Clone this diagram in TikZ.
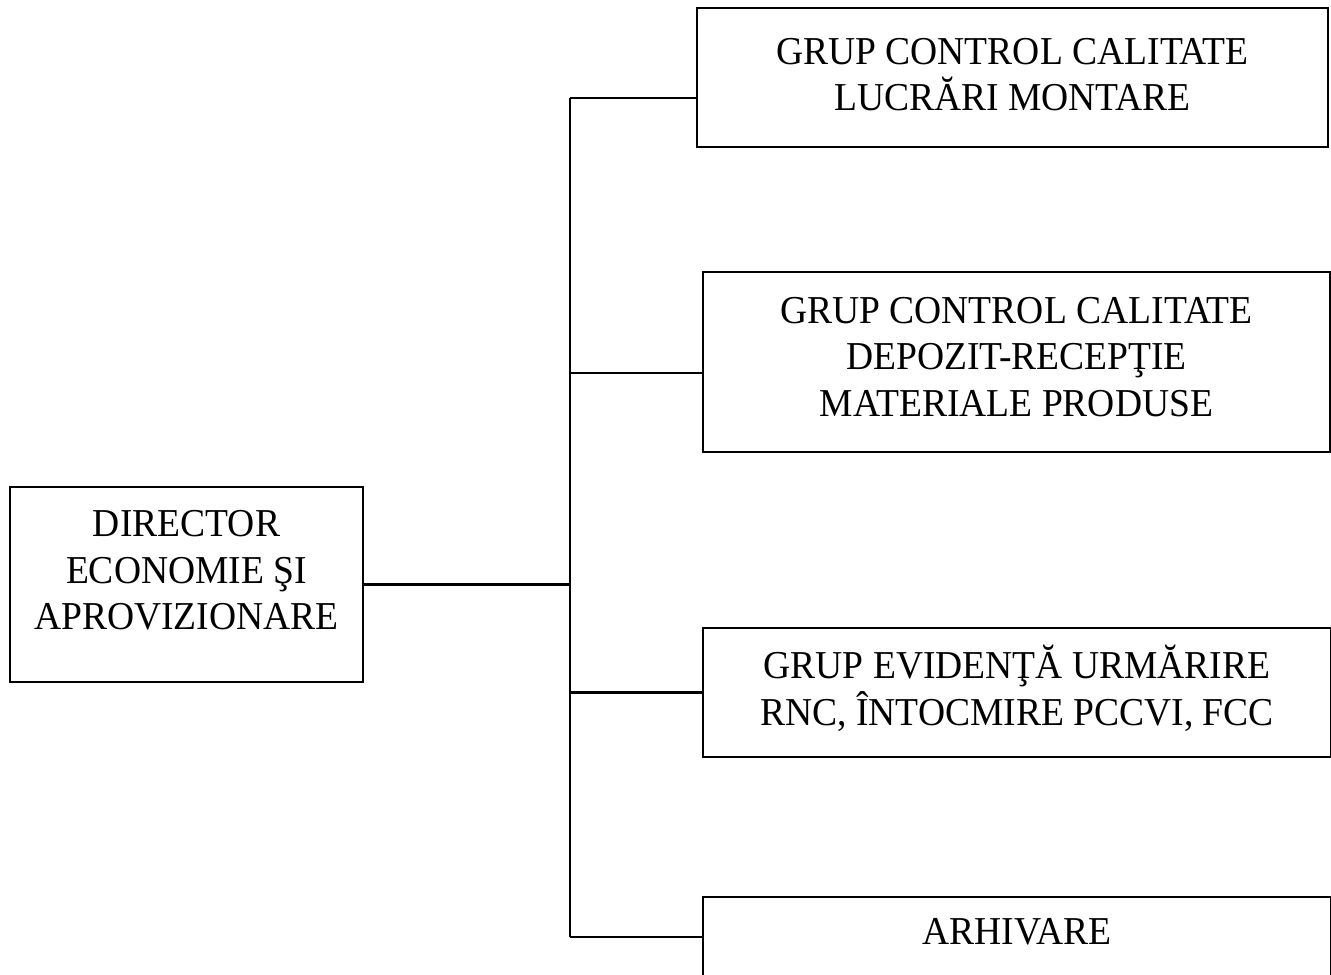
\documentclass[tikz,border=0pt]{standalone}
\usepackage{fontspec}
\setmainfont[FakeStretch=0.95]{Liberation Serif}
\usepackage{tikz}
\tikzstyle{unit}=[draw,rectangle,line width=1.3pt,inner sep=0pt]
\tikzstyle{every label}=[align=center,inner sep=0pt,font=\fontsize{22.5}{26.5}\selectfont]

\begin{document}
\begin{tikzpicture}[x=0.02cm,y=-0.02cm,line width=1.3pt]
	\useasboundingbox (0,0) rectangle (1331,974);
	% casete
	\node [unit,minimum width=353*0.02cm,minimum height=195*0.02cm,
		label={[yshift=14*0.02cm]center:DIRECTOR\\ECONOMIE ŞI\\APROVIZIONARE}] (director) at (186.5,584.5) {};
	\node [unit,minimum width=631*0.02cm,minimum height=139*0.02cm,
		label={[yshift=3*0.02cm]center:GRUP CONTROL CALITATE\\LUCRĂRI MONTARE}] (montare) at (1012.5,77.5) {};
	\node [unit,minimum width=627*0.02cm,minimum height=180*0.02cm,
		label={[yshift=5*0.02cm]center:GRUP CONTROL CALITATE\\DEPOZIT-RECEPŢIE\\MATERIALE PRODUSE}] (depozit) at (1016.5,362) {};
	\node [unit,minimum width=628*0.02cm,minimum height=129*0.02cm,
		label={[yshift=4*0.02cm]center:GRUP EVIDENŢĂ URMĂRIRE\\RNC, ÎNTOCMIRE PCCVI, FCC}] (evidenta) at (1017,692.5) {};
	\node [unit,minimum width=628*0.02cm,minimum height=84*0.02cm,
		label={[yshift=7*0.02cm]center:ARHIVARE}] (arhivare) at (1017,939) {};
	% legaturi
	\coordinate (trunksus) at (570,98);
	\coordinate (trunkdep) at (570,373);
	\coordinate (trunkjos) at (570,937);
	\draw (trunksus) -- (trunkjos);
	\draw (director.east) -- (director.east -| trunksus);
	\draw (trunksus) -- (trunksus -| montare.west);
	\draw (trunkdep) -- (trunkdep -| depozit.west);
	\draw (evidenta.west -| trunksus) -- (evidenta.west);
	\draw (trunkjos) -- (trunkjos -| arhivare.west);
\end{tikzpicture}
\end{document}
